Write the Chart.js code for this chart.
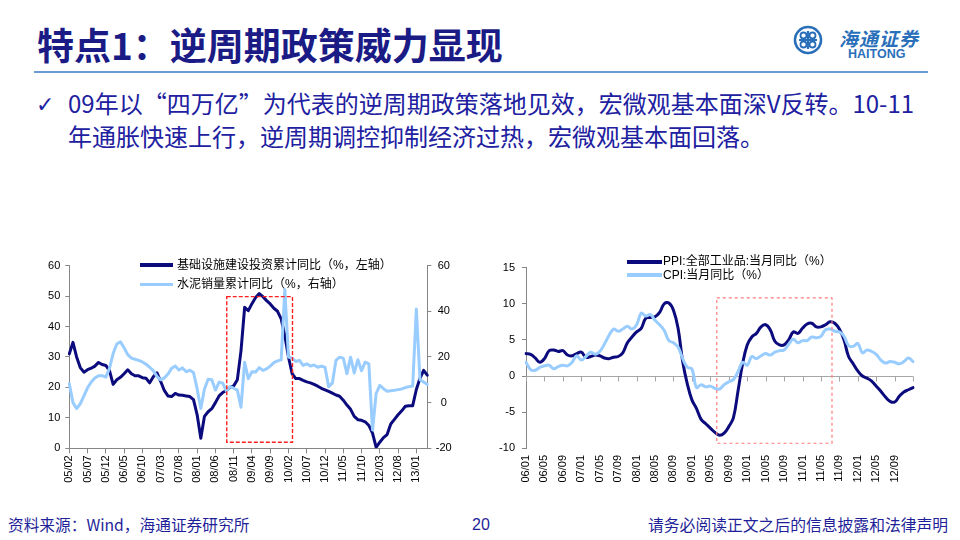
<!DOCTYPE html>
<html><head><meta charset="utf-8">
<script src="https://cdn.jsdelivr.net/npm/chart.js@4.4.1/dist/chart.umd.min.js"></script>
<style>
html,body{margin:0;padding:0;background:#fff;}
#page{position:relative;width:960px;height:540px;overflow:hidden;font-family:"Noto Sans CJK SC",sans-serif;}
.abs{position:absolute;white-space:nowrap;}
#title{left:37px;top:25.5px;font-size:37px;line-height:37px;font-weight:700;color:#1b1b86;}
.bul{left:68px;font-size:24px;line-height:24px;color:#2020a0;}
#check{left:36px;top:94px;font-family:"DejaVu Sans",sans-serif;font-size:22px;line-height:22px;color:#2020a0;}
#rule{left:34px;top:71px;width:894px;height:2px;background:#6a9bd1;}
.foot{font-size:15.7px;line-height:16px;color:#1f1f9a;}
.leg{font-family:"Liberation Sans","Noto Sans CJK SC",sans-serif;font-size:12px;line-height:12px;color:#000;}
.legline{position:absolute;height:3.5px;}
canvas{position:absolute;}
</style></head><body>
<div id="page">
  <div class="abs" id="title">特点1：逆周期政策威力显现</div>
  <svg class="abs" style="left:793px;top:25px" width="30" height="30" viewBox="0 0 30 30">
    <circle cx="15" cy="15" r="13" fill="none" stroke="#2a6fba" stroke-width="2.6"/>
    <path d="M15 6 V24 M6 15 H24" stroke="#2a6fba" stroke-width="2.2"/>
    <circle cx="10.5" cy="10.5" r="3" fill="none" stroke="#2a6fba" stroke-width="1.8"/>
    <circle cx="19.5" cy="10.5" r="3" fill="none" stroke="#2a6fba" stroke-width="1.8"/>
    <circle cx="10.5" cy="19.5" r="3" fill="none" stroke="#2a6fba" stroke-width="1.8"/>
    <circle cx="19.5" cy="19.5" r="3" fill="none" stroke="#2a6fba" stroke-width="1.8"/>
  </svg>
  <div class="abs" style="left:839px;top:28px;font-size:19px;line-height:19px;font-weight:700;font-style:italic;color:#2a6fba;letter-spacing:1px;">海通证券</div>
  <div class="abs" style="left:848px;top:48px;font-family:'Liberation Sans',sans-serif;font-size:12.5px;line-height:13px;font-weight:700;color:#2a6fba;">HAITONG</div>
  <div class="abs" id="rule"></div>
  <div class="abs" id="check">✓</div>
  <div class="abs bul" style="top:90.7px;">09年以“四万亿”为代表的逆周期政策落地见效，宏微观基本面深V反转。10-11</div>
  <div class="abs bul" style="top:124.2px;">年通胀快速上行，逆周期调控抑制经济过热，宏微观基本面回落。</div>

  <canvas id="c1" width="428" height="240" style="left:30px;top:254px;width:428px;height:240px;"></canvas>
  <canvas id="c2" width="443" height="240" style="left:490px;top:254px;width:443px;height:240px;"></canvas>

  <div class="legline" style="left:140px;top:263.3px;width:33px;background:#0b0b7d;"></div>
  <div class="abs leg" style="left:177px;top:258.5px;">基础设施建设投资累计同比（%，左轴）</div>
  <div class="legline" style="left:140px;top:282.6px;width:33px;background:#99ccff;"></div>
  <div class="abs leg" style="left:177px;top:277.8px;">水泥销量累计同比（%，右轴）</div>

  <div class="legline" style="left:627px;top:260px;width:35px;background:#0b0b7d;"></div>
  <div class="abs leg" style="left:663px;top:255.2px;">PPI:全部工业品:当月同比（%）</div>
  <div class="legline" style="left:627px;top:273.3px;width:35px;background:#99ccff;"></div>
  <div class="abs leg" style="left:663px;top:268.5px;">CPI:当月同比（%）</div>

  <div class="abs foot" style="left:8px;top:516.5px;">资料来源：Wind，海通证券研究所</div>
  <div class="abs foot" style="left:472px;top:517px;font-family:'Liberation Sans',sans-serif;font-size:16px;">20</div>
  <div class="abs foot" style="left:648px;top:516.5px;font-size:15.8px;">请务必阅读正文之后的信息披露和法律声明</div>
</div>
<script>
function monthLabels(startYear, startMonth, count) {
  const out = [];
  for (let k = 0; k < count; k++) {
    const t = (startYear * 12 + startMonth - 1) + k;
    const y = Math.floor(t / 12) % 100, m = t % 12 + 1;
    out.push(String(y).padStart(2, '0') + '/' + String(m).padStart(2, '0'));
  }
  return out;
}

// ---- Left chart data (monthly, 05/02 - 13/04) ----
const leftMonths = monthLabels(2005, 2, 99);
const infraYoY = [
  31, 34.8, 30, 26.5, 25, 25.8, 26.3, 27, 28.2, 27.5, 27.2, 25.5,
  21, 22.5, 23.3, 24.5, 25.8, 24.5, 23.8, 23.8, 23.2, 23, 21.5, 23.5,
  24.8, 22, 19, 17.2, 17, 18, 17.5, 17.4, 17.2, 17, 16, 11,
  3.3, 10.5, 12, 13, 15, 17.2, 18.3, 19, 20, 20.5, 22.5, 32,
  46.3, 45.2, 47.5, 49.5, 50.8, 49.8, 48.5, 47.4, 46, 45, 42.5, 37,
  30, 24.5, 22.9, 22.9, 22.3, 21.8, 21.5, 21, 20.4, 19.7, 19.2, 18.7,
  18.1, 17.5, 17.1, 15.8, 14.2, 12.8, 10.5, 9.4, 9.2, 8.7, 7.5, 5,
  0.3, 2, 3.5, 4.5, 8, 9.5, 11, 12.3, 13.8, 14, 14, 19.3,
  23, 25.6, 24
];
const cementYoY = [
  8.3, 0, -2.6, -0.5, 3, 6.5, 9, 10.8, 11.8, 11.8, 11.2, 15,
  21.5, 25.7, 26.6, 24, 21, 19.5, 19, 18.5, 17.8, 16.8, 15.5, 14,
  11.5, 10, 10.8, 12.5, 15, 16, 14.3, 15.2, 13.5, 14.2, 13.2, 6,
  -2.6, 6, 10.2, 10, 5.5, 9, 8.5, 5, 7, 6.3, 5.5, -2,
  17.7, 10.5, 13.5, 13.4, 15.3, 14.1, 14.8, 16, 17.5, 18.3, 18.7, 49.5,
  20, 19.5, 18, 18.5, 16.3, 17, 16, 16.5, 15.5, 16, 15.5, 7,
  8.5, 18.5, 19.9, 19.5, 12.7, 19.9, 13, 18.8, 14, 17.7, 17, -12,
  4, 7.6, 6.1, 5, 5.2, 5.4, 5.7, 6, 6.6, 7, 7.3, 41,
  10, 9, 8
];
const leftAxisTicks = [0, 10, 20, 30, 40, 50, 60];
const rightAxisTicks = [-20, 0, 20, 40, 60];

// ---- Right chart data (monthly, 06/01 - 13/01) ----
const rightMonths = monthLabels(2006, 1, 85);
const ppiYoY = [
  3.1, 3.0, 2.5, 1.9, 2.4, 3.5, 3.6, 3.4, 3.5, 2.9, 2.8, 3.1,
  3.3, 2.6, 2.7, 2.9, 2.8, 2.5, 2.4, 2.6, 2.7, 3.2, 4.6, 5.4,
  6.1, 6.6, 8.0, 8.1, 8.2, 8.8, 10.0, 10.1, 9.1, 6.6, 2.0, -1.1,
  -3.3, -4.5, -6.0, -6.6, -7.2, -7.8, -8.2, -7.9, -7.0, -5.8, -2.1, 1.7,
  4.3, 5.4, 5.9, 6.8, 7.1, 6.4, 4.8, 4.3, 4.3, 5.0, 6.1, 5.9,
  6.6, 7.2, 7.3, 6.8, 6.8, 7.1, 7.5, 7.3, 6.5, 5.0, 2.7, 1.7,
  0.7, 0.0, -0.3, -0.7, -1.4, -2.1, -2.9, -3.5, -3.6, -2.8, -2.2, -1.9,
  -1.6
];
const cpiYoY = [
  1.9, 0.9, 0.8, 1.2, 1.4, 1.5, 1.0, 1.3, 1.5, 1.4, 1.9, 2.8,
  2.2, 2.7, 3.3, 3.0, 3.4, 4.4, 5.6, 6.5, 6.2, 6.5, 6.9, 6.5,
  7.1, 8.7, 8.3, 8.5, 7.7, 7.1, 6.3, 4.9, 4.6, 4.0, 2.4, 1.2,
  1.0, -1.6, -1.2, -1.5, -1.4, -1.7, -1.8, -1.2, -0.8, -0.5, 0.6, 1.9,
  1.5, 2.7, 2.4, 2.8, 3.1, 2.9, 3.3, 3.5, 3.6, 4.4, 5.1, 4.6,
  4.9, 4.9, 5.4, 5.3, 5.5, 6.4, 6.5, 6.2, 6.1, 5.5, 4.2, 4.1,
  4.5, 3.2, 3.6, 3.4, 3.0, 2.2, 1.8, 2.0, 1.9, 1.7, 2.0, 2.5,
  2.0
];
const priceAxisTicks = [-10, -5, 0, 5, 10, 15];

// highlighted periods (data coordinates: category index and axis value)
const leftHighlight = {x0: 43.1, x1: 61.1, y0: 2, y1: 49.8};
const rightHighlight = {x0: 41.4, x1: 66.4, y0: -9.3, y1: 10.8};

// ---- styles ----
const NAVY = '#0b0b7d', LIGHT = '#99ccff', AXIS = '#868686';
const FONT = {family: '"Liberation Sans", Arial, "Noto Sans CJK SC", sans-serif', size: 11};
const fixW = w => s => { s.width = w; };
const fixH = h => s => { s.height = h; };

const rectPlugin = {
  id: 'dashRect',
  afterDatasetsDraw(chart, args, o) {
    const ctx = chart.ctx, xs = chart.scales.x, ys = chart.scales[o.axis];
    const x0 = xs.getPixelForValue(o.box.x0), x1 = xs.getPixelForValue(o.box.x1);
    const yb = ys.getPixelForValue(o.box.y0), yt = ys.getPixelForValue(o.box.y1);
    ctx.save();
    ctx.strokeStyle = o.color; ctx.lineWidth = o.width; ctx.setLineDash(o.dash);
    ctx.strokeRect(x0, yt, x1 - x0, yb - yt);
    ctx.restore();
  }
};
const zeroAxisPlugin = {
  id: 'zeroAxis',
  beforeDatasetsDraw(chart, args, o) {
    const ctx = chart.ctx, ca = chart.chartArea, xs = chart.scales.x;
    const y = Math.round(chart.scales.y.getPixelForValue(0)) + 0.5;
    ctx.save();
    ctx.strokeStyle = o.color; ctx.lineWidth = 1;
    ctx.beginPath();
    ctx.moveTo(ca.left, y); ctx.lineTo(ca.right, y);
    const n = xs.getLabels().length;
    for (let i = 0; i < n; i += o.every) {
      const x = Math.round(xs.getPixelForValue(i)) + 0.5;
      ctx.moveTo(x, y); ctx.lineTo(x, y + o.len);
    }
    ctx.stroke();
    ctx.restore();
  }
};

const lineDs = (label, data, color, axis, order, tension) => ({
  label, data, yAxisID: axis, borderColor: color, backgroundColor: color,
  borderWidth: 3, pointRadius: 0, tension, order,
  borderJoinStyle: 'round', borderCapStyle: 'round', fill: false
});

// ---- Left chart ----
new Chart(document.getElementById('c1'), {
  type: 'line',
  data: {
    labels: leftMonths,
    datasets: [
      lineDs('基础设施建设投资累计同比（%，左轴）', infraYoY, NAVY, 'y', 1, 0),
      lineDs('水泥销量累计同比（%，右轴）', cementYoY, LIGHT, 'y1', 0, 0)
    ]
  },
  options: {
    responsive: false, animation: false, devicePixelRatio: 1,
    layout: {padding: {left: 0, right: 4.7, top: 10.7, bottom: 0}},
    plugins: {
      legend: {display: false}, tooltip: {enabled: false},
      dashRect: {axis: 'y', box: leftHighlight, color: '#ff2020', width: 1.4, dash: [4, 2]}
    },
    scales: {
      x: {
        type: 'category', offset: false,
        grid: {drawOnChartArea: false, tickLength: 5,
               color: c => (c.index % 5 === 0 ? AXIS : 'rgba(0,0,0,0)')},
        border: {color: AXIS},
        ticks: {autoSkip: false, maxRotation: 90, minRotation: 90, padding: 2, font: FONT, color: '#000',
                callback: (v, i) => (i % 5 === 0 ? leftMonths[i] : '')},
        afterFit: fixH(45.7)
      },
      y: {
        position: 'left', min: leftAxisTicks[0], max: leftAxisTicks[leftAxisTicks.length - 1],
        afterBuildTicks: s => { s.ticks = leftAxisTicks.map(v => ({value: v})); },
        grid: {drawOnChartArea: false, tickLength: 4, color: AXIS},
        border: {color: AXIS},
        ticks: {padding: 5, font: FONT, color: '#000'},
        afterFit: fixW(39.3)
      },
      y1: {
        position: 'right', min: rightAxisTicks[0], max: rightAxisTicks[rightAxisTicks.length - 1],
        afterBuildTicks: s => { s.ticks = rightAxisTicks.map(v => ({value: v})); },
        grid: {drawOnChartArea: false, tickLength: 4, color: AXIS},
        border: {color: AXIS},
        ticks: {padding: 4.5, crossAlign: 'center', font: FONT, color: '#000'},
        afterFit: fixW(26)
      }
    }
  },
  plugins: [rectPlugin]
});

// ---- Right chart ----
new Chart(document.getElementById('c2'), {
  type: 'line',
  data: {
    labels: rightMonths,
    datasets: [
      lineDs('PPI:全部工业品:当月同比（%）', ppiYoY, NAVY, 'y', 1, 0.4),
      lineDs('CPI:当月同比（%）', cpiYoY, LIGHT, 'y', 0, 0.4)
    ]
  },
  options: {
    responsive: false, animation: false, devicePixelRatio: 1,
    layout: {padding: {left: 0, right: 10.3, top: 10.7, bottom: 0}},
    plugins: {
      legend: {display: false}, tooltip: {enabled: false},
      dashRect: {axis: 'y', box: rightHighlight, color: '#ff7a7a', width: 1.2, dash: [3, 3]},
      zeroAxis: {color: '#a6a6a6', every: 4, len: 5}
    },
    scales: {
      x: {
        type: 'category', offset: false,
        grid: {display: false, drawTicks: false},
        border: {display: false},
        ticks: {autoSkip: false, maxRotation: 90, minRotation: 90, padding: 6.7, font: FONT, color: '#000',
                callback: (v, i) => (i % 4 === 0 && i < rightMonths.length - 1 ? rightMonths[i] : '')},
        afterFit: fixH(45.7)
      },
      y: {
        position: 'left', min: priceAxisTicks[0], max: priceAxisTicks[priceAxisTicks.length - 1],
        afterBuildTicks: s => { s.ticks = priceAxisTicks.map(v => ({value: v})); },
        grid: {drawOnChartArea: false, tickLength: 4, color: AXIS},
        border: {color: AXIS},
        ticks: {padding: 7, font: FONT, color: '#000'},
        afterFit: fixW(36)
      }
    }
  },
  plugins: [zeroAxisPlugin, rectPlugin]
});
</script>
</body></html>
